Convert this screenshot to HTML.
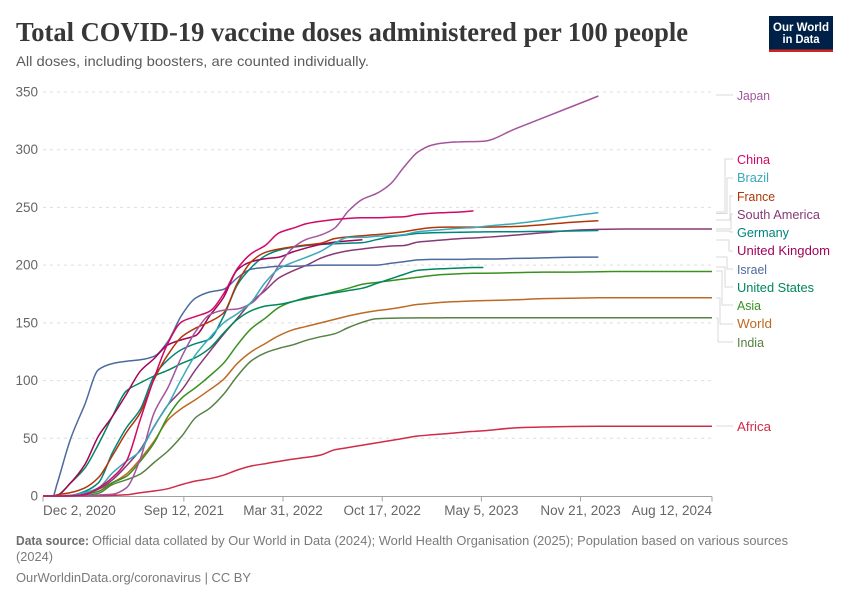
<!DOCTYPE html>
<html lang="en">
<head>
<meta charset="utf-8">
<title>Total COVID-19 vaccine doses administered per 100 people</title>
<style>
html,body{margin:0;padding:0;background:#fff;}
svg{display:block;font-family:"Liberation Sans",sans-serif;}
.lbl{font-size:12.5px;}
.conn{fill:none;stroke:#d9d9d9;stroke-width:1;}
</style>
</head>
<body>
<svg id="chart" width="850" height="600" viewBox="0 0 850 600" xmlns="http://www.w3.org/2000/svg">
  <text x="16" y="41" font-family="'Liberation Serif',serif" font-weight="700" font-size="27" fill="#373737" textLength="672" lengthAdjust="spacingAndGlyphs">Total COVID-19 vaccine doses administered per 100 people</text>
  <text x="16" y="66" font-size="14" fill="#5b5b5b" textLength="353" lengthAdjust="spacingAndGlyphs">All doses, including boosters, are counted individually.</text>

  <g>
    <rect x="769" y="16" width="64" height="36" fill="#002147"/>
    <rect x="769" y="49.5" width="64" height="2.5" fill="#ce261e"/>
    <text x="801" y="31" text-anchor="middle" font-size="12" font-weight="700" fill="#fff" textLength="56" lengthAdjust="spacingAndGlyphs">Our World</text>
    <text x="801" y="43" text-anchor="middle" font-size="12" font-weight="700" fill="#fff" textLength="37" lengthAdjust="spacingAndGlyphs">in Data</text>
  </g>

  <g id="grid-layer"></g>
  <g id="axis-layer"></g>
  <g id="series-layer"></g>

  <g>
    <polyline class="conn" points="716,95 733,95"/>
    <polyline class="conn" points="716,212 725,212 725,159 733,159"/>
    <polyline class="conn" points="716,213.5 727,213.5 727,178 733,178"/>
    <polyline class="conn" points="716,220 730,220 730,196 733,196"/>
    <polyline class="conn" points="716,229 731,229 731,214 733,214"/>
    <polyline class="conn" points="716,231 730,231 730,232 733,232"/>
    <polyline class="conn" points="716,240 729,240 729,251 733,251"/>
    <polyline class="conn" points="716,257 727,257 727,269 733,269"/>
    <polyline class="conn" points="716,267 725,267 725,287 733,287"/>
    <polyline class="conn" points="716,271 722,271 722,305 733,305"/>
    <polyline class="conn" points="716,298 720,298 720,324 733,324"/>
    <polyline class="conn" points="716,318 718,318 718,342 733,342"/>
    <polyline class="conn" points="716,426 733,426"/>
  </g>

  <g>
    <text class="lbl" x="737" y="100" fill="#a2559c" textLength="33" lengthAdjust="spacingAndGlyphs">Japan</text>
    <text class="lbl" x="737" y="164" fill="#cf0a66" textLength="33" lengthAdjust="spacingAndGlyphs">China</text>
    <text class="lbl" x="737" y="182" fill="#38aaba" textLength="32" lengthAdjust="spacingAndGlyphs">Brazil</text>
    <text class="lbl" x="737" y="201" fill="#b13507" textLength="38" lengthAdjust="spacingAndGlyphs">France</text>
    <text class="lbl" x="737" y="219" fill="#883975" textLength="83" lengthAdjust="spacingAndGlyphs">South America</text>
    <text class="lbl" x="737" y="237" fill="#00847e" textLength="52" lengthAdjust="spacingAndGlyphs">Germany</text>
    <text class="lbl" x="737" y="255" fill="#a2045a" textLength="93" lengthAdjust="spacingAndGlyphs">United Kingdom</text>
    <text class="lbl" x="737" y="274" fill="#4c6a9c" textLength="30" lengthAdjust="spacingAndGlyphs">Israel</text>
    <text class="lbl" x="737" y="292" fill="#00875e" textLength="77" lengthAdjust="spacingAndGlyphs">United States</text>
    <text class="lbl" x="737" y="310" fill="#38911f" textLength="24" lengthAdjust="spacingAndGlyphs">Asia</text>
    <text class="lbl" x="737" y="328" fill="#be6a24" textLength="35" lengthAdjust="spacingAndGlyphs">World</text>
    <text class="lbl" x="737" y="347" fill="#578145" textLength="27" lengthAdjust="spacingAndGlyphs">India</text>
    <text class="lbl" x="737" y="431" fill="#cf2c4a" textLength="34" lengthAdjust="spacingAndGlyphs">Africa</text>
  </g>

  <g>
    <text x="16" y="545" font-size="13" font-weight="700" fill="#6e6e6e" textLength="73" lengthAdjust="spacingAndGlyphs">Data source:</text>
    <text x="92" y="545" font-size="13" fill="#7a7a7a" textLength="696" lengthAdjust="spacingAndGlyphs">Official data collated by Our World in Data (2024); World Health Organisation (2025); Population based on various sources</text>
    <text x="16" y="561" font-size="13" fill="#7a7a7a" textLength="37" lengthAdjust="spacingAndGlyphs">(2024)</text>
    <text x="16" y="582" font-size="13" fill="#7a7a7a" textLength="235" lengthAdjust="spacingAndGlyphs">OurWorldinData.org/coronavirus | CC BY</text>
  </g>
</svg>
<script>
const days = [0,20,28,56,84,112,140,168,196,224,252,280,308,336,364,392,420,448,476,504,532,560,588,616,644,672,700,728,756,784,812,840,868,888,952,1008,1064,1120,1176,1232,1288,1349];
const yTicks = [0,50,100,150,200,250,300,350];
const xTickDays = [0,284,484,684,884,1084,1349];
const xTickLabels = ["Dec 2, 2020","Sep 12, 2021","Mar 31, 2022","Oct 17, 2022","May 5, 2023","Nov 21, 2023","Aug 12, 2024"];

const africa = [0,0,0,0,0,0.2,0.5,1,2.8,4.3,6.3,10,13,15,18,22.5,26,28,30,32,33.5,35.5,40,42,44,46,48,50,52,53,54,55,56,56.5,59,59.8,60.2,60.4,60.5,60.5,60.5,60.5];
const india = [0,0,0,0.1,0.5,2.3,10,14,19,29,39,52,68,76,88,104,117,124,128,131,135,138,140.5,146,150.5,153.5,154,154.2,154.3,154.3,154.4,154.4,154.4,154.4,154.5,154.5,154.5,154.5,154.5,154.5,154.5,154.5];
const world = [0,0,0.1,0.5,2,6,11.5,19,32,47.5,66,76,83.6,92,101,115,125,132,139,144,147,150,153,156,158.5,160.5,162,164,166,167,168,168.5,169,169.3,170,171,171.3,171.7,171.8,171.8,171.8,171.8];
const asia = [0,0,0,0.2,1.5,4,11.5,17,30,46,69,85,94,104,115,131,145,154,163.5,168.5,171,174,177,180,183.5,185,186.5,188,189.5,191,192,192.5,193,193,193.5,194,194,194.3,194.5,194.5,194.5,194.5];
const southAmerica = [0,0,0,0.3,2,6,14,26,40,60,79,92,109.5,125,140,154,168,178,189,195,200,206,210,212.5,214,215.5,216.5,217,220,221,222,223,223.5,224,226,228,230,231,231.3,231.3,231.3,231.3];
const israel = [0,0,10,50,79,109.5,114.7,116.7,118,121,134,157,171.5,176.7,179,189,196.5,198,199,199,199.5,200,200,200,200,200,201.5,203,204.5,205,205,205,205.3,205.3,205.8,206.3,206.8,207];
const germany = [0,0,0,0.6,4,11.5,37.5,59,75,104,118,127,132,136,155.6,183,198,208,213,215.5,217,218,218.5,219,219.5,222,224.5,226,227.5,228,228.3,228.5,228.7,228.8,229,229.2,229.6,230];
const unitedStates = [0,0,0.5,11.5,24,45,69,91,98,104,109,115,120,128,141,153,160.5,164.5,166,168.5,172,174,176,178,180,184,188,192,195.5,196.5,197,197.5,198,198];
const unitedKingdom = [0,0,0.5,11.5,27,52,69,88,108,119,131,135.5,139,156,172,196,203,205.5,207,211.5,215,218,220,221,222];
const france = [0,0,1,3,7,16,35,55,72,101,122.5,138,145.5,151,158.5,184.5,203,211,214,216,217.5,219,223,224.5,225.5,226.5,227.5,229,231,232.5,233,233,233,233,233.5,235,237,238.5];
const japan = [0,0,0,0,0,0.8,1.5,7,32,72,94,121,142.6,157,161,162,167,180,200,215,222.5,226,232,247,257,262,270,285,298,304,306,306.8,307,307.3,318,327.6,337,346.5];
const brazil = [0,0,0,0.5,3,7,20,30,39,60.5,79,102,122.5,137,150,158,168,185,197,202.5,207,212,219,224,224,225,225.5,226.5,229,230,231,232,232.5,233.5,236,239,242.5,245.5];
const china = [0,0,0,0.3,1,7,16,30,66,102,132.5,151,155.6,160,175,197,210,217,228,232,236,238,239.5,240.5,241,241,241.5,242,244,245,245.5,246,247];

const NS = "http://www.w3.org/2000/svg";
const xDomainMax = 1349;
const yDomainMax = 350;
function xScale(d){ return 43 + d / xDomainMax * 669; }
function yScale(v){ return 496 - v / yDomainMax * 404; }

const gridLayer = document.getElementById("grid-layer");
const axisLayer = document.getElementById("axis-layer");
const seriesLayer = document.getElementById("series-layer");

yTicks.forEach(function(t){
  if (t !== 0) {
    const g = document.createElementNS(NS, "line");
    g.setAttribute("x1", 43);
    g.setAttribute("x2", 712);
    g.setAttribute("y1", yScale(t));
    g.setAttribute("y2", yScale(t));
    g.setAttribute("stroke", "#dddddd");
    g.setAttribute("stroke-dasharray", "3,4");
    
    
    gridLayer.appendChild(g);
  }
  const lab = document.createElementNS(NS, "text");
  lab.setAttribute("x", 38);
  lab.setAttribute("y", yScale(t) + 4.5);
  lab.setAttribute("text-anchor", "end");
  lab.setAttribute("font-size", "13.5");
  lab.setAttribute("fill", "#666666");
  lab.textContent = String(t);
  
  
  axisLayer.appendChild(lab);
});

const axisLine = document.createElementNS(NS, "line");
axisLine.setAttribute("x1", 43);
axisLine.setAttribute("x2", 712);
axisLine.setAttribute("y1", 496.5);
axisLine.setAttribute("y2", 496.5);
axisLine.setAttribute("stroke", "#a1a1a1");


axisLayer.appendChild(axisLine);

xTickDays.forEach(function(d, i){
  const x = xScale(d);
  const tick = document.createElementNS(NS, "line");
  tick.setAttribute("x1", x);
  tick.setAttribute("x2", x);
  tick.setAttribute("y1", 496.5);
  tick.setAttribute("y2", 501.5);
  tick.setAttribute("stroke", "#a1a1a1");
  
  
  axisLayer.appendChild(tick);
  const lab = document.createElementNS(NS, "text");
  const last = xTickDays.length - 1;
  lab.setAttribute("x", x);
  lab.setAttribute("y", 515);
  lab.setAttribute("text-anchor", i === 0 ? "start" : (i === last ? "end" : "middle"));
  lab.setAttribute("font-size", "13.5");
  lab.setAttribute("fill", "#666666");
  lab.textContent = xTickLabels[i];
  
  
  axisLayer.appendChild(lab);
});

function smoothPath(values){
  const xs = values.map(function(v, i){ return xScale(days[i]); });
  const ys = values.map(function(v){ return yScale(v); });
  const n = xs.length;
  const slopes = [];
  for (let i = 0; i < n - 1; i++) {
    slopes.push((ys[i + 1] - ys[i]) / (xs[i + 1] - xs[i]));
  }
  const tangents = [slopes[0]];
  for (let i = 1; i < n - 1; i++) {
    const a = slopes[i - 1];
    const b = slopes[i];
    tangents.push(a * b <= 0 ? 0 : 2 * a * b / (a + b));
  }
  tangents.push(slopes[n - 2]);
  let d = "M" + xs[0].toFixed(1) + "," + ys[0].toFixed(1);
  for (let i = 0; i < n - 1; i++) {
    const h = (xs[i + 1] - xs[i]) / 3;
    d += "C" + (xs[i] + h).toFixed(1) + "," + (ys[i] + tangents[i] * h).toFixed(1) +
         " " + (xs[i + 1] - h).toFixed(1) + "," + (ys[i + 1] - tangents[i + 1] * h).toFixed(1) +
         " " + xs[i + 1].toFixed(1) + "," + ys[i + 1].toFixed(1);
  }
  return d;
}

function drawSeries(values, color, name){
  const line = document.createElementNS(NS, "path");
  line.setAttribute("d", smoothPath(values));
  line.setAttribute("fill", "none");
  line.setAttribute("stroke", color);
  line.setAttribute("stroke-width", "1.5");
  line.setAttribute("stroke-linejoin", "round");
  
  
  seriesLayer.appendChild(line);
}

drawSeries(africa, "#cf2c4a", "line-africa");
drawSeries(india, "#578145", "line-india");
drawSeries(world, "#be6a24", "line-world");
drawSeries(asia, "#38911f", "line-asia");
drawSeries(southAmerica, "#883975", "line-south-america");
drawSeries(israel, "#4c6a9c", "line-israel");
drawSeries(germany, "#00847e", "line-germany");
drawSeries(unitedStates, "#00875e", "line-united-states");
drawSeries(unitedKingdom, "#a2045a", "line-united-kingdom");
drawSeries(france, "#b13507", "line-france");
drawSeries(japan, "#a2559c", "line-japan");
drawSeries(brazil, "#38aaba", "line-brazil");
drawSeries(china, "#cf0a66", "line-china");
</script>
</body>
</html>
